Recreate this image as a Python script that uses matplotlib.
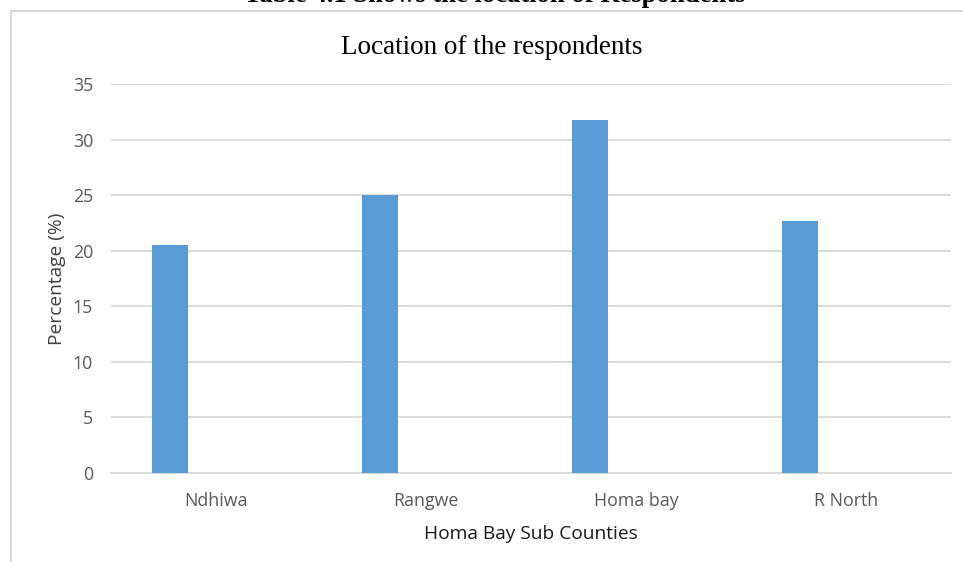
import numpy as np
import matplotlib.pyplot as plt
from matplotlib.patches import Rectangle

# sub-county shares of respondents (%)
counties = ['Ndhiwa', 'Rangwe', 'Homa bay', 'R North']
percent = [20.5, 25.0, 31.8, 22.7]
y_ticks = [0, 5, 10, 15, 20, 25, 30, 35]

fig = plt.figure(figsize=(9.63, 5.62), dpi=100)
ax = fig.add_axes([0.1153, 0.1589, 0.8722, 0.6916])

x = np.arange(len(counties))
ax.bar(x - 0.22, percent, width=0.174, color='#5B9BD5', zorder=3)

ax.set_xlim(-0.5, len(counties) - 0.5)
ax.set_ylim(0, 35)
ax.set_yticks(y_ticks)
ax.set_xticks(x)
ax.set_xticklabels(counties)
ax.grid(axis='y', color='#D9D9D9', linewidth=1.3, zorder=0)
ax.tick_params(length=0, labelsize=12.8, labelcolor='#595959')
ax.tick_params(axis='y', pad=13)
ax.tick_params(axis='x', pad=14)
for lab in ax.get_xticklabels() + ax.get_yticklabels():
    lab.set_family('Open Sans')
for s in ['top', 'right', 'left']:
    ax.spines[s].set_visible(False)
ax.spines['bottom'].set_color('#D9D9D9')
ax.spines['bottom'].set_linewidth(1.3)

ax.set_xlabel('Homa Bay Sub Counties', fontsize=13.8, family='Open Sans',
              color='#1a1a1a', labelpad=11)
ax.set_ylabel('Percentage (%)', fontsize=13.8, family='Open Sans',
              color='#404040', labelpad=5)

fig.text(0.511, 0.916, 'Location of the respondents', ha='center', va='center',
         fontsize=19.5, family='Liberation Serif', color='black')

# chart frame
fig.add_artist(Rectangle((11 / 963, -0.05), 1.2, 1 - 11 / 562 + 0.05,
                         transform=fig.transFigure, fill=False,
                         edgecolor='#D9D9D9', linewidth=1.5))

# caption above the chart, mostly cut off by the page edge
fig.text(0.514, 1 - 2 / 562, 'Table 4.1 Shows the location of Respondents',
         ha='center', va='baseline', fontsize=19.2, fontweight='bold',
         family='Liberation Serif', color='black')

fig.savefig('out.png', dpi=100)
